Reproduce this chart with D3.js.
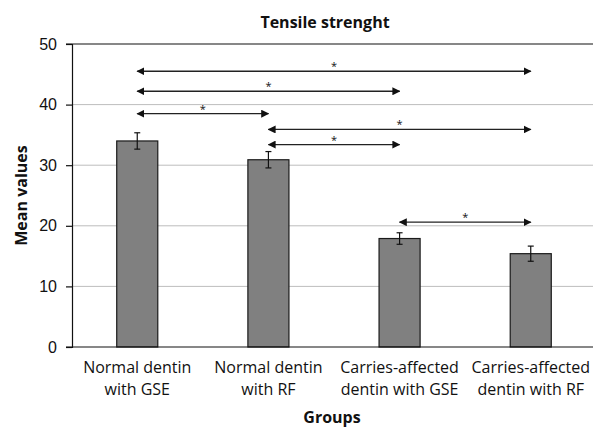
<!DOCTYPE html>
<html>
<head>
<meta charset="utf-8">
<script src="https://cdn.jsdelivr.net/npm/d3@7"></script>
<style>
  body { margin: 0; background: #fff; }
  svg { font-family: "Open Sans", sans-serif; }
</style>
</head>
<body>
<div id="chart"></div>
<script>
// data
const groups = [
    ['Normal dentin', 'with GSE'],
    ['Normal dentin', 'with RF'],
    ['Carries-affected', 'dentin with GSE'],
    ['Carries-affected', 'dentin with RF']
];
const means = [34.0, 30.9, 17.9, 15.4];
const errors = [1.35, 1.35, 0.95, 1.25];
const yTicks = [0, 10, 20, 30, 40, 50];
// significance arrows: from group, to group, level
const sigFrom = [0, 0, 0, 1, 1, 2];
const sigTo = [3, 2, 1, 3, 2, 3];
const sigLevel = [45.5, 42.2, 38.5, 35.9, 33.4, 20.6];

let width = 593, height = 427;
let margin = { top: 44, right: -3, bottom: 80, left: 72 };

let svg = d3.select('#chart').append('svg')
    .attr('width', width)
    .attr('height', height);

let x = d3.scaleBand()
    .domain(d3.range(groups.length))
    .range([margin.left, width - margin.right])
    .paddingInner(0.687)
    .paddingOuter(0.341);

let y = d3.scaleLinear()
    .domain([0, 50])
    .range([height - margin.bottom, margin.top]);

let defs = svg.append('defs');
defs.append('marker')
    .attr('id', 'head')
    .attr('viewBox', '0 0 10 10')
    .attr('refX', 9).attr('refY', 5)
    .attr('markerWidth', 8).attr('markerHeight', 8)
    .attr('markerUnits', 'userSpaceOnUse')
    .attr('orient', 'auto-start-reverse')
    .append('path')
    .attr('d', 'M0,0L10,5L0,10Z')
    .attr('fill', '#111');

// gridlines
svg.append('g')
    .selectAll('line')
    .data(yTicks.filter(d => d > 0 && d < 50))
    .join('line')
    .attr('x1', margin.left).attr('x2', width)
    .attr('y1', d => y(d)).attr('y2', d => y(d))
    .attr('stroke', '#bdbdbd')
    .attr('stroke-width', 1);

// top border
svg.append('line')
    .attr('x1', margin.left - 6).attr('x2', width)
    .attr('y1', y(50)).attr('y2', y(50))
    .attr('stroke', '#111').attr('stroke-width', 1.2);

// bars
let cx = i => x(i) + x.bandwidth() / 2;
svg.append('g')
    .selectAll('rect')
    .data(means)
    .join('rect')
    .attr('x', (d, i) => x(i))
    .attr('y', d => y(d))
    .attr('width', x.bandwidth())
    .attr('height', d => y(0) - y(d))
    .attr('fill', '#808080')
    .attr('stroke', '#1a1a1a')
    .attr('stroke-width', 1.2);

// error bars
let err = svg.append('g').attr('stroke', '#111').attr('stroke-width', 1.2);
means.forEach((m, i) => {
    err.append('line')
        .attr('x1', cx(i)).attr('x2', cx(i))
        .attr('y1', y(m + errors[i])).attr('y2', y(m - errors[i]));
    [m + errors[i], m - errors[i]].forEach(v => {
        err.append('line')
            .attr('x1', cx(i) - 3).attr('x2', cx(i) + 3)
            .attr('y1', y(v)).attr('y2', y(v));
    });
});

// y axis
let yAxis = svg.append('g')
    .attr('transform', `translate(${margin.left},0)`)
    .call(d3.axisLeft(y).tickValues(yTicks).tickSize(6).tickPadding(9));
yAxis.select('.domain').attr('stroke', '#111').attr('stroke-width', 1.2);
yAxis.selectAll('.tick line').attr('stroke', '#111').attr('stroke-width', 1.2);
yAxis.selectAll('text').attr('font-size', 16).attr('fill', '#111');

// x axis line
svg.append('line')
    .attr('x1', margin.left - 6).attr('x2', width)
    .attr('y1', y(0)).attr('y2', y(0))
    .attr('stroke', '#111').attr('stroke-width', 1.2);

// category labels
let labels = svg.append('g')
    .selectAll('text')
    .data(groups)
    .join('text')
    .attr('text-anchor', 'middle')
    .attr('font-size', 16)
    .attr('fill', '#111')
    .attr('transform', (d, i) => `translate(${cx(i)},${y(0) + 26})`);
labels.selectAll('tspan')
    .data(d => d)
    .join('tspan')
    .attr('x', 0)
    .attr('dy', (d, j) => j === 0 ? 0 : 22)
    .text(d => d);

// significance arrows
let sig = svg.append('g');
sigLevel.forEach((lv, k) => {
    let x1 = cx(sigFrom[k]), x2 = cx(sigTo[k]);
    sig.append('line')
        .attr('x1', x1).attr('x2', x2)
        .attr('y1', y(lv)).attr('y2', y(lv))
        .attr('stroke', '#222').attr('stroke-width', 1.3)
        .attr('marker-start', 'url(#head)')
        .attr('marker-end', 'url(#head)');
    sig.append('text')
        .attr('x', (x1 + x2) / 2)
        .attr('y', y(lv) - 1)
        .attr('text-anchor', 'middle')
        .attr('font-size', 11)
        .attr('fill', '#111')
        .text('*');
});

// titles
svg.append('text')
    .attr('x', 325).attr('y', 28)
    .attr('text-anchor', 'middle')
    .attr('font-size', 16).attr('font-weight', 'bold')
    .attr('fill', '#111')
    .text('Tensile strenght');

svg.append('text')
    .attr('x', 332).attr('y', 423)
    .attr('text-anchor', 'middle')
    .attr('font-size', 16).attr('font-weight', 'bold')
    .attr('fill', '#111')
    .text('Groups');

svg.append('text')
    .attr('transform', `translate(27,${y(25)}) rotate(-90)`)
    .attr('text-anchor', 'middle')
    .attr('font-size', 16).attr('font-weight', 'bold')
    .attr('fill', '#111')
    .text('Mean values');
</script>
</body>
</html>
